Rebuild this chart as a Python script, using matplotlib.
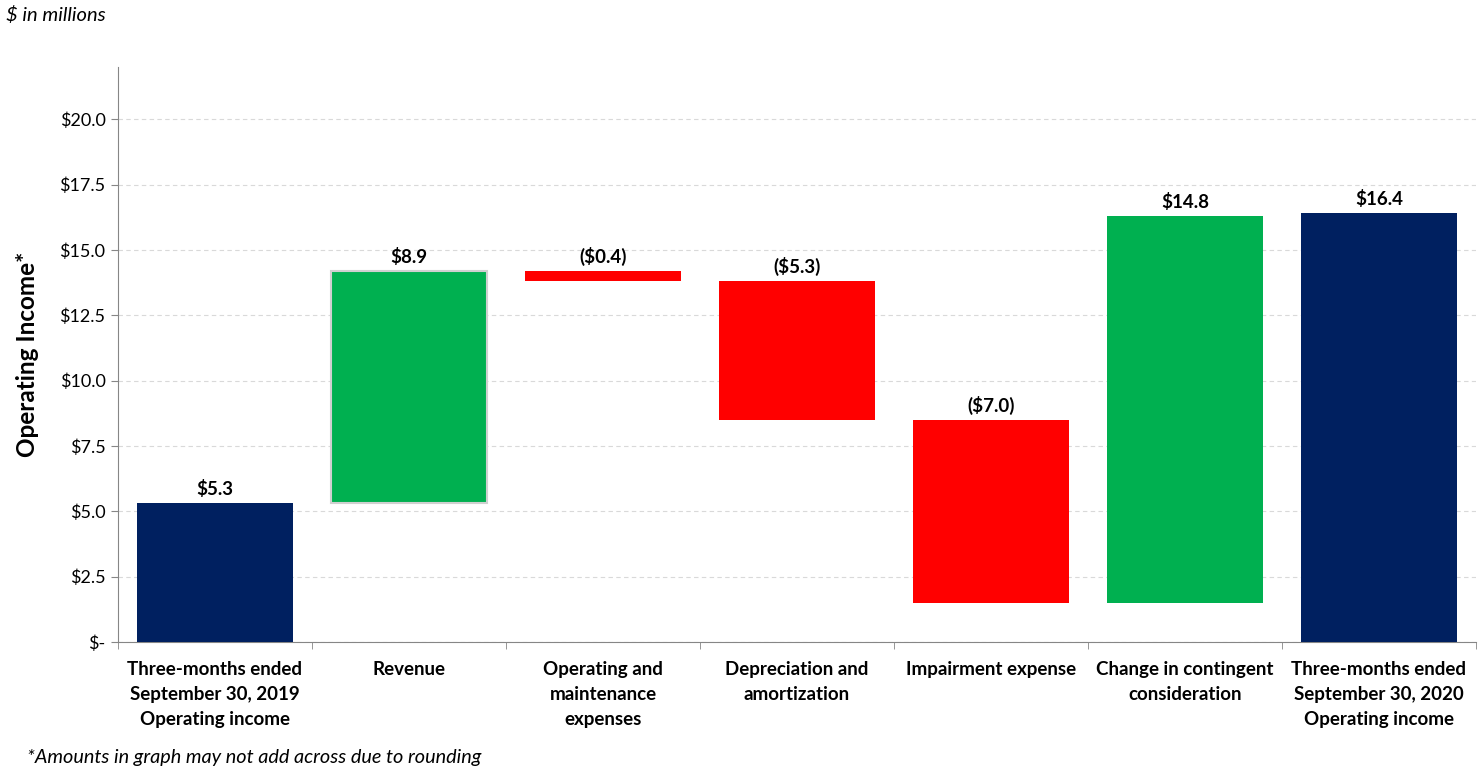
import matplotlib.pyplot as plt
import numpy as np

########### DATA ###########
CATEGORIES = [
    "Three-months ended\nSeptember 30, 2019\nOperating income",
    "Revenue",
    "Operating and\nmaintenance\nexpenses",
    "Depreciation and\namortization",
    "Impairment expense",
    "Change in contingent\nconsideration",
    "Three-months ended\nSeptember 30, 2020\nOperating income",
]
START_VALUE = 5.3
CHANGES = [8.9, -0.4, -5.3, -7.0, 14.8]
END_VALUE = 16.4
LABELS = ["$5.3", "$8.9", "($0.4)", "($5.3)", "($7.0)", "$14.8", "$16.4"]
Y_TICKS = [0, 2.5, 5.0, 7.5, 10.0, 12.5, 15.0, 17.5, 20.0]
############################

NAVY = "#002060"
GREEN = "#00B050"
RED = "#FF0000"
FONT = ["Lato", "DejaVu Sans"]

plt.rcParams["font.family"] = FONT

# waterfall bottoms / heights
bottoms = [0]
heights = [START_VALUE]
colors = [NAVY]
running = START_VALUE
for c in CHANGES:
    if c >= 0:
        bottoms.append(running)
        heights.append(c)
        colors.append(GREEN)
    else:
        bottoms.append(running + c)
        heights.append(-c)
        colors.append(RED)
    running += c
bottoms.append(0)
heights.append(END_VALUE)
colors.append(NAVY)

fig = plt.figure(figsize=(14.82, 7.73), dpi=100)
ax = fig.add_axes([0.0796, 0.1695, 0.9163, 0.7438])

x = np.arange(len(CATEGORIES))
edges = ["#d0d0d0" if i == 1 else "none" for i in x]
ax.bar(x, heights, bottom=bottoms, width=0.8, color=colors,
       edgecolor=edges, linewidth=1.5, zorder=3)

for i in x:
    top = bottoms[i] + heights[i]
    ax.text(i, top + 0.2, LABELS[i], ha="center", va="bottom",
            fontsize=13.5, fontweight="bold", color="black")

ax.set_xlim(-0.5, len(CATEGORIES) - 0.5)
ax.set_ylim(0, 22)

ax.set_yticks(Y_TICKS)
ax.set_yticklabels(["$-"] + [f"${v:.1f}" for v in Y_TICKS[1:]], fontsize=13)
ax.yaxis.grid(True, linestyle=(0, (4, 3)), color="#d9d9d9", linewidth=0.8, zorder=0)

ax.set_xticks(x)
ax.set_xticklabels(CATEGORIES, fontsize=13.5, fontweight="bold", linespacing=1.55)
ax.set_xticks(np.arange(-0.5, len(CATEGORIES) - 0.4, 1), minor=True)
ax.tick_params(axis="x", which="major", length=0, pad=14)
ax.tick_params(axis="x", which="minor", length=5, color="#868686")
ax.tick_params(axis="y", length=5, color="#868686", pad=4)

for side in ["top", "right"]:
    ax.spines[side].set_visible(False)
for side in ["left", "bottom"]:
    ax.spines[side].set_color("#868686")

ax.set_ylabel("Operating Income*", fontsize=17.5, fontweight="bold")
ax.yaxis.set_label_coords(-0.058, 0.5)

fig.text(0.004, 0.98, "$ in millions", fontsize=14.5, style="italic", va="center")
fig.text(0.018, 0.02, "*Amounts in graph may not add across due to rounding",
         fontsize=14.3, style="italic", va="center")

fig.savefig("out.png", dpi=100)
